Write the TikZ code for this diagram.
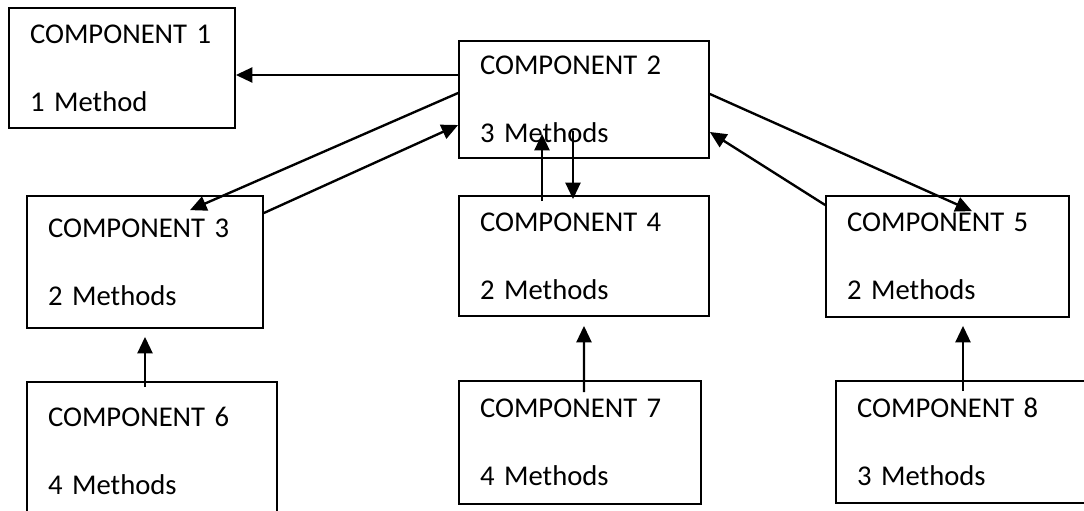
\documentclass[tikz,border=0pt]{standalone}
\usepackage{fontspec}
\setmainfont{Carlito}
\usetikzlibrary{arrows.meta}

\begin{document}
\begin{tikzpicture}[
        comp/.style={rectangle, draw=black, line width=1pt, inner xsep=0.42cm, align=left, font=\fontsize{16.3}{19.4}\selectfont},
        link/.style={-{Triangle[length=0.33cm, width=0.3cm]}, line width=1.35pt}
    ]
    \clip (0,0) rectangle (21.68,-10.22);

    % Top row
    \node[comp, minimum width=4.52cm, minimum height=2.4cm, text width=3.68cm] (C1) at (2.44, -1.36) {COMPONENT 1\\[\baselineskip]1 Method};
    \node[comp, minimum width=5cm, minimum height=2.34cm, text width=4.16cm] (C2) at (11.68, -1.99) {COMPONENT 2\\[\baselineskip]3 Methods};

    % Middle row
    \node[comp, minimum width=4.72cm, minimum height=2.64cm, text width=3.88cm] (C3) at (2.9, -5.24) {COMPONENT 3\\[\baselineskip]2 Methods};
    \node[comp, minimum width=5cm, minimum height=2.4cm, text width=4.16cm] (C4) at (11.68, -5.12) {COMPONENT 4\\[\baselineskip]2 Methods};
    \node[comp, minimum width=4.86cm, minimum height=2.42cm, text width=4.02cm] (C5) at (18.95, -5.13) {COMPONENT 5\\[\baselineskip]2 Methods};

    % Bottom row
    \node[comp, minimum width=5cm, minimum height=2.76cm, text width=4.16cm] (C6) at (3.04, -9.02) {COMPONENT 6\\[\baselineskip]4 Methods};
    \node[comp, minimum width=4.84cm, minimum height=2.46cm, text width=4cm] (C7) at (11.6, -8.85) {COMPONENT 7\\[\baselineskip]4 Methods};
    \node[comp, minimum width=5.18cm, minimum height=2.44cm, text width=4.34cm] (C8) at (19.31, -8.84) {COMPONENT 8\\[\baselineskip]3 Methods};

    % Calls
    \draw[link] ([yshift=0.49cm]C2.west) -- ([yshift=-0.14cm]C1.east);
    \draw[link] ([yshift=0.13cm]C2.west) -- ([xshift=0.9cm, yshift=-0.3cm]C3.north);
    \draw[link] ([yshift=0.98cm]C3.east) -- ([yshift=-0.51cm]C2.west);
    \draw[link] ([xshift=-0.84cm, yshift=-0.12cm]C4.north) -- ([xshift=-0.84cm, yshift=0.5cm]C2.south);
    \draw[link] ([xshift=-0.22cm, yshift=0.56cm]C2.south) -- ([xshift=-0.22cm, yshift=-0.08cm]C4.north);
    \draw[link] ([yshift=0.11cm]C2.east) -- ([xshift=0.49cm, yshift=-0.32cm]C5.north);
    \draw[link] ([yshift=1.03cm]C5.west) -- ([yshift=-0.65cm]C2.east);
    \draw[link] ([xshift=-0.14cm, yshift=-0.12cm]C6.north) -- ([yshift=-0.16cm]C3.south);
    \draw[link] ([xshift=0.08cm, yshift=-0.24cm]C7.north) -- ([yshift=-0.18cm]C4.south);
    \draw[link] ([xshift=-0.05cm, yshift=-0.22cm]C8.north) -- ([xshift=0.31cm, yshift=-0.16cm]C5.south);
\end{tikzpicture}
\end{document}
